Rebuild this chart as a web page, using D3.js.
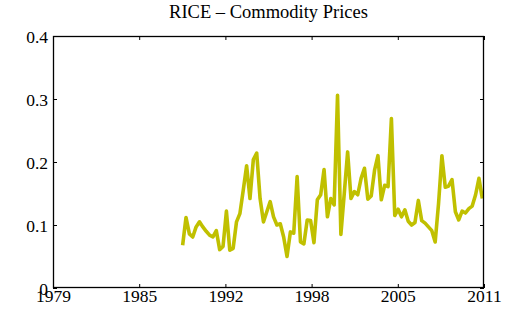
<!DOCTYPE html>
<html>
<head>
<meta charset="utf-8">
<script src="https://cdn.jsdelivr.net/npm/d3@7"></script>
<style>
  html, body { margin: 0; padding: 0; background: #fff; }
  svg { display: block; }
</style>
</head>
<body>
<svg id="chart" width="507" height="324"></svg>
<script>
// Quarterly rice price series
const startYear = 1988.625;
const stepYears = 0.25;
const ricePrices = [
  0.068, 0.112, 0.086, 0.081, 0.097, 0.105, 0.097, 0.090, 0.084, 0.081,
  0.091, 0.061, 0.066, 0.122, 0.060, 0.063, 0.105, 0.118, 0.155, 0.194,
  0.142, 0.204, 0.214, 0.142, 0.105, 0.121, 0.137, 0.113, 0.100, 0.102,
  0.081, 0.050, 0.089, 0.087, 0.177, 0.073, 0.070, 0.108, 0.107, 0.072,
  0.140, 0.148, 0.188, 0.113, 0.142, 0.132, 0.306, 0.085, 0.150, 0.216,
  0.142, 0.153, 0.148, 0.174, 0.190, 0.141, 0.146, 0.187, 0.210, 0.140,
  0.163, 0.161, 0.269, 0.115, 0.125, 0.113, 0.124, 0.106, 0.100, 0.104,
  0.139, 0.107, 0.103, 0.097, 0.091, 0.073, 0.134, 0.210, 0.160, 0.162,
  0.172, 0.121, 0.108, 0.122, 0.119, 0.126, 0.130, 0.148, 0.174, 0.142
];
const xDomain = [1979, 2011];
const xTicks = [1979, 1985.4, 1991.8, 1998.2, 2004.6, 2011];
const xTickLabels = ["1979", "1985", "1992", "1998", "2005", "2011"];
const yDomain = [0, 0.4];
const yTicks = [0, 0.1, 0.2, 0.3, 0.4];
const yTickLabels = ["0", "0.1", "0.2", "0.3", "0.4"];
const titleText = "RICE \u2013 Commodity Prices";

const FONT = "'Liberation Serif', 'Times New Roman', 'DejaVu Serif', serif";

const svg = d3.select("#chart");
const m = { left: 53, right: 484, top: 36, bottom: 288 };

const x = d3.scaleLinear().domain(xDomain).range([m.left, m.right]);
const y = d3.scaleLinear().domain(yDomain).range([m.bottom, m.top]);

const series = ricePrices.map((v, i) => ({ t: startYear + i * stepYears, v }));

// price line
svg.append("path")
  .datum(series)
  .attr("fill", "none")
  .attr("stroke", "#c0c000")
  .attr("stroke-width", 3.6)
  .attr("stroke-linejoin", "round")
  .attr("d", d3.line().x(d => x(d.t)).y(d => y(d.v)));

const tickLen = 4;
function styleAxis(g) {
  g.attr("font-family", null).attr("font-size", null);
  g.selectAll(".domain").remove();
  g.selectAll(".tick line").attr("stroke", "#000").attr("stroke-width", 1);
  g.selectAll(".tick text")
    .style("font-family", FONT)
    .style("font-size", "17.5px")
    .attr("fill", "#000");
}

// bottom axis with labels
const gx = svg.append("g")
  .attr("transform", `translate(0,${m.bottom})`)
  .call(d3.axisBottom(x).tickValues(xTicks).tickSizeInner(-tickLen).tickSizeOuter(0)
    .tickFormat((d, i) => xTickLabels[i]));
styleAxis(gx);
gx.selectAll(".tick text")
  .attr("y", 0).attr("dy", null)
  .attr("transform", "translate(0,13.5)");

// top axis, ticks only
const gxt = svg.append("g")
  .attr("transform", `translate(0,${m.top})`)
  .call(d3.axisTop(x).tickValues(xTicks).tickSizeInner(-tickLen).tickSizeOuter(0).tickFormat(""));
styleAxis(gxt);

// left axis with labels
const gy = svg.append("g")
  .attr("transform", `translate(${m.left},0)`)
  .call(d3.axisLeft(y).tickValues(yTicks).tickSizeInner(-tickLen).tickSizeOuter(0)
    .tickFormat((d, i) => yTickLabels[i]));
styleAxis(gy);
gy.selectAll(".tick text")
  .attr("x", -5).attr("dy", "0.36em");

// right axis, ticks only
const gyr = svg.append("g")
  .attr("transform", `translate(${m.right},0)`)
  .call(d3.axisRight(y).tickValues(yTicks).tickSizeInner(-tickLen).tickSizeOuter(0).tickFormat(""));
styleAxis(gyr);

// frame
svg.append("rect")
  .attr("x", m.left + 0.5).attr("y", m.top + 0.5)
  .attr("width", m.right - m.left - 1).attr("height", m.bottom - m.top - 1)
  .attr("fill", "none").attr("stroke", "#000").attr("stroke-width", 1.3);

// title
svg.append("text")
  .attr("x", (m.left + m.right) / 2).attr("y", 18)
  .attr("text-anchor", "middle")
  .style("font-family", FONT)
  .style("font-size", "18.5px")
  .attr("fill", "#000")
  .text(titleText);
</script>
</body>
</html>
